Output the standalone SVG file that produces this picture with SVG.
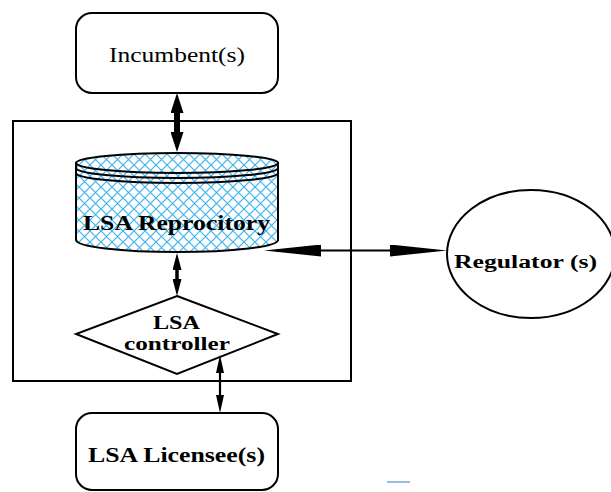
<svg xmlns="http://www.w3.org/2000/svg" width="611" height="492" viewBox="0 0 611 492">
<style>
.shape{fill:#fff;stroke:#000;stroke-width:2}
.t{font-family:"Liberation Serif","Times New Roman",serif;fill:#000}
.b{font-weight:bold}
.conn{fill:none;stroke:#000}
</style>
<defs>
<pattern id="hatch" patternUnits="userSpaceOnUse" width="11" height="11" x="2" y="0">
<rect width="11" height="11" fill="#fff"/>
<path d="M0,0 L11,11 M11,0 L0,11" stroke="#3db4ee" stroke-width="1.2"/>
</pattern>
<marker id="big" markerUnits="userSpaceOnUse" markerWidth="20" markerHeight="13" refX="10" refY="6.5" orient="auto-start-reverse"><path d="M0,0 L20,6.5 L0,13 Z" fill="#000"/></marker>
<marker id="mid" markerUnits="userSpaceOnUse" markerWidth="17" markerHeight="9" refX="9" refY="4.5" orient="auto-start-reverse"><path d="M0,0 L17,4.5 L0,9 Z" fill="#000"/></marker>
<marker id="small" markerUnits="userSpaceOnUse" markerWidth="18" markerHeight="8" refX="11" refY="4" orient="auto-start-reverse"><path d="M0,0 L18,4 L0,8 Z" fill="#000"/></marker>
<marker id="long" markerUnits="userSpaceOnUse" markerWidth="57" markerHeight="12" refX="45" refY="6" orient="auto-start-reverse"><path d="M0,0 L57,6 L0,12 Z" fill="#000"/></marker>
</defs>
<rect width="611" height="492" fill="#fff"/>

<g id="boundary">
<rect x="13" y="121" width="338" height="260" fill="none" stroke="#000" stroke-width="2"/>
</g>

<g id="incumbent">
<rect class="shape" x="76" y="13" width="202" height="80" rx="16"/>
<text class="t" x="109" y="62" font-size="20" textLength="136" lengthAdjust="spacingAndGlyphs">Incumbent(s)</text>
</g>

<g id="repository">
<path d="M76,163 L76,240 A101,12 0 0 0 278,240 L278,163 Z" fill="url(#hatch)" stroke="#000" stroke-width="2"/>
<ellipse cx="177" cy="163" rx="101" ry="10" fill="url(#hatch)" stroke="#000" stroke-width="2"/>
<path d="M76,168 A101,10 0 0 0 278,168 M76,173 A101,10 0 0 0 278,173" fill="none" stroke="#000" stroke-width="2"/>
<text class="t b" x="83" y="230" font-size="20" textLength="187" lengthAdjust="spacingAndGlyphs">LSA Reprocitory</text>
</g>

<g id="controller">
<polygon class="shape" points="177,296 278,334 177,374 76,334"/>
<text class="t b" x="153" y="329" font-size="19" textLength="47" lengthAdjust="spacingAndGlyphs">LSA</text>
<text class="t b" x="124" y="350" font-size="19" textLength="106" lengthAdjust="spacingAndGlyphs">controller</text>
</g>

<g id="licensee">
<rect class="shape" x="76" y="413" width="202" height="77" rx="16"/>
<text class="t b" x="88" y="462" font-size="20" textLength="177" lengthAdjust="spacingAndGlyphs">LSA Licensee(s)</text>
</g>

<g id="regulator">
<ellipse class="shape" cx="531" cy="254" rx="84" ry="64"/>
<text class="t b" x="454" y="268" font-size="18" textLength="143" lengthAdjust="spacingAndGlyphs">Regulator (s)</text>
</g>

<g id="connectors">
<path class="conn" d="M177,103 L177,142" stroke-width="6" marker-start="url(#big)" marker-end="url(#big)"/>
<path class="conn" d="M177,261 L177,288" stroke-width="3.5" marker-start="url(#mid)" marker-end="url(#mid)"/>
<path class="conn" d="M220,362 L220,406" stroke-width="2.2" marker-start="url(#small)" marker-end="url(#small)"/>
<path class="conn" d="M276,250.5 L435,250.5" stroke-width="2" marker-start="url(#long)" marker-end="url(#long)"/>
</g>

<line x1="387" y1="482" x2="410" y2="482" stroke="#7ba7d9" stroke-width="1.5"/>
</svg>
